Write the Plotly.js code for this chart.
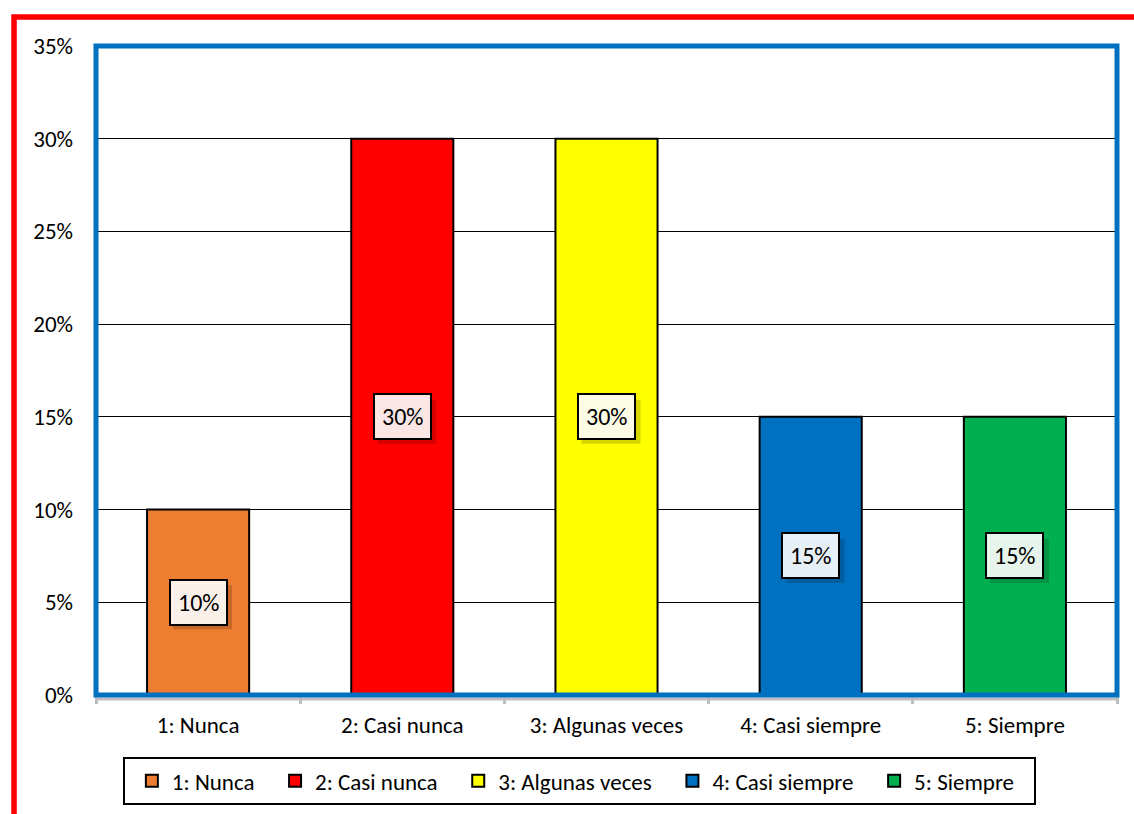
<!DOCTYPE html>
<html>
<head>
<meta charset="utf-8">
<script src="https://cdn.plot.ly/plotly-3.0.1.min.js"></script>
<style>
  html, body { margin: 0; padding: 0; background: #fff; }
  #chart { width: 1134px; height: 814px; }
</style>
</head>
<body>
<div id="chart"></div>
<script>
const categories = ['1: Nunca', '2: Casi nunca', '3: Algunas veces', '4: Casi siempre', '5: Siempre'];
const values = [0.10, 0.30, 0.30, 0.15, 0.15];
const labels = ['10%', '30%', '30%', '15%', '15%'];
const colors = ['#ED7D31', '#FF0000', '#FFFF00', '#0070C0', '#00B050'];

const FONT = 'Carlito, Lato, "Open Sans", sans-serif';
const PAD = '\u00a0\u00a0\u00a0';

const traces = categories.map((c, i) => ({
  type: 'bar',
  name: i < categories.length - 1 ? c + PAD : c,
  x: [c],
  y: [values[i]],
  width: 0.5,
  marker: { color: colors[i], line: { color: '#000', width: 2 } },
  hoverinfo: 'x+y'
}));

const labelAnn = categories.map((c, i) => ({
  x: c,
  y: values[i] / 2,
  xref: 'x', yref: 'y',
  text: labels[i],
  showarrow: false,
  font: { family: FONT, size: 24, color: '#000' },
  bgcolor: 'rgba(255,255,255,0.9)',
  bordercolor: '#000',
  borderwidth: 2,
  borderpad: 7
}));

// soft drop shadows behind the data labels
const shadowShapes = categories.map((c, i) => ({
  type: 'rect', xref: 'x', yref: 'y',
  xsizemode: 'pixel', ysizemode: 'pixel', xanchor: c, yanchor: values[i] / 2,
  x0: -25, x1: 34, y0: -27, y1: 17,
  line: { width: 0 }, fillcolor: 'rgba(0,0,0,0.16)'
}));

const shapes = [
  { type: 'rect', xref: 'paper', yref: 'paper',
    xsizemode: 'pixel', ysizemode: 'pixel', xanchor: 0, yanchor: 1,
    x0: -82, x1: 3000, y0: 29, y1: -3000,
    line: { color: '#FF0000', width: 5.5 }, fillcolor: 'rgba(0,0,0,0)' },
  { type: 'line', xref: 'paper', yref: 'paper',
    ysizemode: 'pixel', yanchor: 0, x0: 0, x1: 1, y0: -4, y1: -4,
    line: { color: '#BFBFBF', width: 3 } },
  { type: 'rect', xref: 'paper', yref: 'paper', x0: 0, x1: 1, y0: 0, y1: 1,
    line: { color: '#0070C0', width: 5 }, fillcolor: 'rgba(0,0,0,0)' },
  { type: 'rect', xref: 'paper', yref: 'paper',
    xsizemode: 'pixel', ysizemode: 'pixel', xanchor: 0, yanchor: 0,
    x0: 28, x1: 939, y0: -63, y1: -109,
    line: { color: '#000', width: 2 }, fillcolor: 'rgba(0,0,0,0)' }
].concat(shadowShapes);

const layout = {
  width: 1134, height: 814,
  margin: { l: 96, r: 17, t: 46, b: 119, autoexpand: false },
  paper_bgcolor: '#fff', plot_bgcolor: '#fff',
  font: { family: FONT, size: 23, color: '#000' },
  barmode: 'overlay',
  showlegend: true,
  legend: {
    orientation: 'h', x: 0.47, xanchor: 'center', y: -0.099, yanchor: 'top',
    borderwidth: 0, bgcolor: 'rgba(0,0,0,0)',
    font: { family: FONT, size: 23, color: '#000' },
    itemclick: false
  },
  xaxis: {
    type: 'category', categoryorder: 'array', categoryarray: categories,
    tickson: 'boundaries', ticks: 'outside', ticklen: 8, tickwidth: 3, tickcolor: '#BFBFBF',
    showline: false, showgrid: false, zeroline: false, automargin: false,
    tickfont: { family: FONT, size: 23, color: '#000' },
    ticklabelstandoff: 14
  },
  yaxis: {
    range: [0, 0.35], dtick: 0.05, tick0: 0, tickformat: '.0%',
    showgrid: true, gridcolor: '#000', gridwidth: 1, zeroline: false,
    showline: false, ticks: '', automargin: false,
    tickfont: { family: FONT, size: 23, color: '#000' },
    ticklabelstandoff: 22
  },
  annotations: labelAnn,
  shapes: shapes
};

Plotly.newPlot('chart', traces, layout, { displayModeBar: false, staticPlot: true });
</script>
</body>
</html>
